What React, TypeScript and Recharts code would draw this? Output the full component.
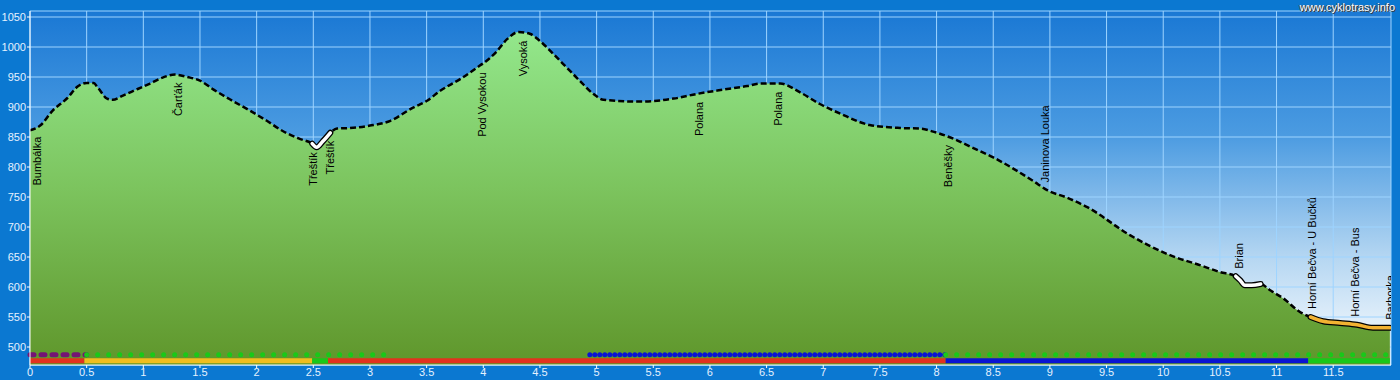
import * as React from 'react';
import {
  ComposedChart,
  Area,
  Line,
  Scatter,
  XAxis,
  YAxis,
  CartesianGrid,
  ReferenceLine,
} from 'recharts';

// elevation profile (km, m)
const km = [
  0, 0.09, 0.2, 0.33, 0.42, 0.5, 0.56, 0.6, 0.68, 0.73, 0.82, 0.95, 1.06, 1.17, 1.28, 1.39,
  1.5, 1.62, 1.79, 1.94, 2.09, 2.23, 2.38, 2.49, 2.53, 2.58, 2.65, 2.71, 2.82, 3.0, 3.18,
  3.38, 3.5, 3.62, 3.8, 3.97, 4.03, 4.12, 4.21, 4.31, 4.41, 4.5, 4.62, 4.74, 4.85, 4.97,
  5.06, 5.38, 5.68, 5.89, 6.12, 6.33, 6.44, 6.62, 6.8, 6.97, 7.15, 7.41, 7.68, 7.86, 7.97,
  8.15, 8.32, 8.5, 8.68, 8.85, 8.98, 9.15, 9.33, 9.71, 10.06, 10.33, 10.5, 10.64, 10.68,
  10.72, 10.78, 10.86, 10.94, 11.06, 11.21, 11.3, 11.41, 11.56, 11.71, 11.85, 12.0,
];
const elevation = [
  861, 869, 894, 915, 934, 940, 940, 932, 914, 912, 919, 930, 939, 949, 954, 950,
  944, 929, 910, 894, 877, 860, 847, 839, 833, 842, 857, 864, 865, 869, 877,
  899, 910, 927, 947, 969, 977, 993, 1013, 1025, 1022, 1010, 988, 965, 944, 922,
  912, 909, 914, 922, 929, 935, 939, 939, 924, 905, 889, 870, 865, 864, 859,
  847, 832, 816, 797, 777, 761, 749, 733, 686, 653, 636, 625, 618, 611,
  603, 603, 605, 595, 581, 558, 550, 543, 540, 537, 532, 532,
];

// place names
const placeName = [
  'Bumbálka', 'Čarťák', 'Třeštík', 'Třeštík', 'Pod Vysokou', 'Vysoká', 'Polana', 'Polana',
  'Beněšky', 'Janinova Louka', 'Brian', 'Horní Bečva - U Bučků', 'Horní Bečva - Bus', 'Barborka',
];
const placeKm = [0.06, 1.31, 2.5, 2.65, 3.99, 4.35, 5.9, 6.6, 8.1, 8.96, 10.67, 11.31, 11.69, 12.0];
const placeElev = [864, 954, 838, 857, 971, 1024, 922, 939, 850, 761, 617, 550, 537, 532];
const placeAbove = [false, false, false, false, false, false, false, false, false, true, true, true, true, true];

// highlighted parts of the track
const highlightFrom = [2.49, 10.64, 11.3];
const highlightTo = [2.65, 10.86, 12.0];
const highlightKind = ['white', 'white', 'orange'];

// surface bar (bottom row)
const surfaceFrom = [0, 0.48, 2.49, 2.63, 8.08, 11.28];
const surfaceTo = [0.48, 2.49, 2.63, 8.08, 11.28, 12.0];
const surfaceKind = ['red', 'yellow', 'green', 'red', 'blue', 'green'];

// marking row (dots)
const markFrom = [0, 0.5, 4.94, 8.08];
const markTo = [0.5, 3.2, 8.08, 12.0];
const markKind = ['purple', 'green', 'blue', 'green'];

const xTicks = [0, 0.5, 1, 1.5, 2, 2.5, 3, 3.5, 4, 4.5, 5, 5.5, 6, 6.5, 7, 7.5, 8, 8.5, 9, 9.5, 10, 10.5, 11, 11.5];
const yTicks = [500, 550, 600, 650, 700, 750, 800, 850, 900, 950, 1000, 1050];

const COLORS: Record<string, string> = {
  red: '#e2321e',
  yellow: '#f0be1e',
  green: '#19c819',
  blue: '#0a14d2',
  purple: '#741474',
  white: '#ffffff',
  orange: '#f2b232',
};

const FONT = '"Liberation Sans", Arial, sans-serif';
const SURFACE_Y = 477;
const MARK_Y = 487;

const profile = km.map((k, i) => ({ km: k, elev: elevation[i] }));
const places = placeName.map((name, i) => ({
  km: placeKm[i],
  elev: placeElev[i],
  name,
  above: placeAbove[i],
}));

const PlaceLabel = (props: any) => {
  const { cx, cy, payload } = props;
  if (cx == null || cy == null) return null;
  const y = payload.above ? cy - 8 : cy + 8;
  return (
    <text
      x={cx}
      y={y}
      dy="0.36em"
      transform={`rotate(-90, ${cx}, ${y})`}
      textAnchor={payload.above ? 'start' : 'end'}
      fontSize={11}
      fontFamily={FONT}
      fill="#000"
    >
      {payload.name}
    </text>
  );
};

export default function App() {
  const highlights = highlightFrom.map((from, i) => ({
    data: profile.filter((p) => p.km >= from - 0.001 && p.km <= highlightTo[i] + 0.001),
    color: COLORS[highlightKind[i]],
  }));

  const tickStyle = { fill: '#e6f2ff', fontSize: 11, fontFamily: FONT };

  return (
    <div style={{ width: 1400, height: 380, background: '#0b78d1', position: 'relative' }}>
      <style>{'body{margin:0}'}</style>
      <ComposedChart
        width={1400}
        height={380}
        data={profile}
        margin={{ top: 11, right: 9, bottom: 0, left: 0 }}
      >
        <defs>
          <linearGradient id="skyGrad" x1="0" y1="11" x2="0" y2="365" gradientUnits="userSpaceOnUse">
            <stop offset="0" stopColor="#1a78d4" />
            <stop offset="0.35" stopColor="#4b9be1" />
            <stop offset="0.7" stopColor="#b6d7f2" />
            <stop offset="1" stopColor="#ffffff" />
          </linearGradient>
          <linearGradient id="hillGrad" x1="0" y1="11" x2="0" y2="365" gradientUnits="userSpaceOnUse">
            <stop offset="0" stopColor="#96ec92" />
            <stop offset="0.5" stopColor="#7cc45e" />
            <stop offset="1" stopColor="#5f962b" />
          </linearGradient>
        </defs>
        <CartesianGrid stroke="#9ed4ff" strokeWidth={1} fill="url(#skyGrad)" fillOpacity={1} />
        <XAxis
          dataKey="km"
          type="number"
          domain={[0, 12.01]}
          ticks={xTicks}
          allowDataOverflow
          height={15}
          tick={tickStyle}
          tickSize={3}
          tickMargin={0}
          axisLine={{ stroke: '#ffffff' }}
          tickLine={{ stroke: '#ffffff' }}
        />
        <YAxis
          type="number"
          domain={[470, 1060]}
          ticks={yTicks}
          allowDataOverflow
          width={30}
          tick={tickStyle}
          tickSize={3}
          tickMargin={1}
          axisLine={{ stroke: '#ffffff' }}
          tickLine={{ stroke: '#ffffff' }}
        />
        <Area
          dataKey="elev"
          type="monotone"
          fill="url(#hillGrad)"
          fillOpacity={1}
          stroke="#000"
          strokeWidth={2.5}
          strokeDasharray="6 3"
          isAnimationActive={false}
        />
        {highlights.map((h, i) => (
          <Line
            key={`hb${i}`}
            data={h.data}
            dataKey="elev"
            type="monotone"
            stroke="#000"
            strokeWidth={6}
            strokeLinecap="round"
            dot={false}
            activeDot={false}
            isAnimationActive={false}
          />
        ))}
        {highlights.map((h, i) => (
          <Line
            key={`hc${i}`}
            data={h.data}
            dataKey="elev"
            type="monotone"
            stroke={h.color}
            strokeWidth={3.5}
            strokeLinecap="round"
            dot={false}
            activeDot={false}
            isAnimationActive={false}
          />
        ))}
        {surfaceFrom.map((from, i) => (
          <ReferenceLine
            key={`s${i}`}
            segment={[
              { x: from, y: SURFACE_Y },
              { x: surfaceTo[i], y: SURFACE_Y },
            ]}
            stroke={COLORS[surfaceKind[i]]}
            strokeWidth={5}
          />
        ))}
        {markFrom.map((from, i) => {
          const kind = markKind[i];
          const dash = kind === 'purple' ? '4 7' : kind === 'blue' ? '0 5' : '0 11';
          return (
            <ReferenceLine
              key={`m${i}`}
              segment={[
                { x: from, y: MARK_Y },
                { x: markTo[i], y: MARK_Y },
              ]}
              stroke={COLORS[kind]}
              strokeWidth={5}
              strokeLinecap="round"
              strokeDasharray={dash}
            />
          );
        })}
        <Scatter
          data={places}
          dataKey="elev"
          shape={PlaceLabel}
          isAnimationActive={false}
        />
      </ComposedChart>
      <div
        style={{
          position: 'absolute',
          right: 5,
          top: 1,
          fontFamily: FONT,
          fontSize: 11,
          color: '#ffffff',
          textShadow: '1px 1px 0 #333, -1px 0 0 #555',
        }}
      >
        www.cyklotrasy.info
      </div>
    </div>
  );
}
